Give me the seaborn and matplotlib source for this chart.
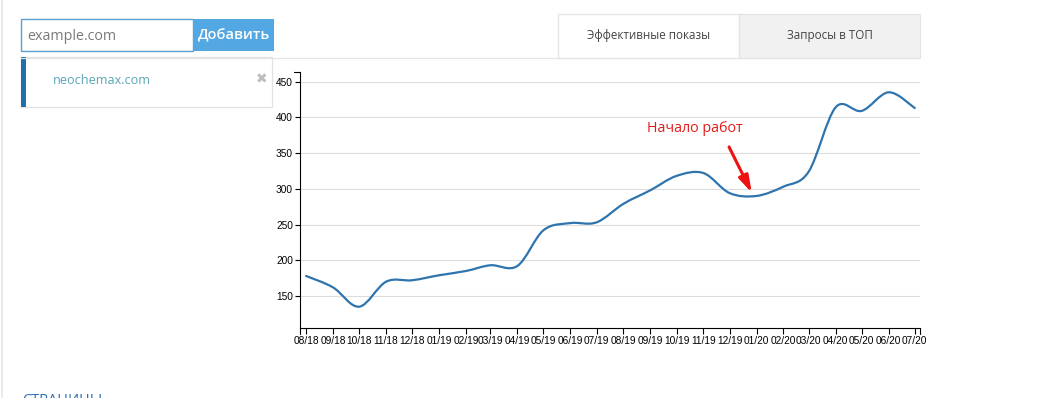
import numpy as np
import pandas as pd
import matplotlib
matplotlib.use('Agg')
import matplotlib.pyplot as plt
import matplotlib.dates as mdates
from matplotlib.path import Path
from matplotlib.patches import PathPatch, Rectangle
import seaborn as sb

# monthly values (Эффективные показы)
months = pd.date_range('2018-08-01', '2020-07-01', freq='MS')
shows = [178, 162, 135, 170, 172, 179, 185, 193, 192, 242, 252, 253,
         279, 298, 318, 322, 294, 290, 303, 324, 414, 409, 435, 413]
y_ticks = [150, 200, 250, 300, 350, 400, 450]
note_text = 'Начало работ'
site_name = 'neochemax.com'
tab_labels = ['Эффективные показы', 'Запросы в ТОП']

W, H = 1058, 398
LINE_COLOR = '#2f74ad'


def fx(x):
    return x / W


def fy(y):
    return 1 - y / H


def cardinal_path(x, y, k=1 / 6):
    # like d3.curveCardinal (tension 0): bezier segments through every point
    pts = np.column_stack([x, y]).astype(float)
    pts = np.vstack([pts[:1], pts, pts[-1:]])
    verts = [tuple(pts[1])]
    codes = [Path.MOVETO]
    for i in range(1, len(pts) - 2):
        p0, p1, p2, p3 = pts[i - 1], pts[i], pts[i + 1], pts[i + 2]
        verts += [tuple(p1 + k * (p2 - p0)), tuple(p2 - k * (p3 - p1)), tuple(p2)]
        codes += [Path.CURVE4] * 3
    return Path(verts, codes)


sb.set_style('white')
plt.rcParams['font.family'] = ['Liberation Sans', 'DejaVu Sans']

fig = plt.figure(figsize=(W / 100, H / 100), dpi=100)

# chart area
ax = fig.add_axes([fx(300), fy(328), fx(620), 256 / H])
xs = mdates.date2num(months)
ax.add_patch(PathPatch(cardinal_path(xs, shows), facecolor='none',
                       edgecolor=LINE_COLOR, lw=1.6, capstyle='round'))
ax.set_xlim(mdates.date2num(pd.Timestamp('2018-07-25')),
            mdates.date2num(pd.Timestamp('2020-07-07')))
ax.set_ylim(105.2, 463.4)

ax.set_yticks(y_ticks)
ax.xaxis.set_major_locator(mdates.MonthLocator())
ax.xaxis.set_major_formatter(mdates.DateFormatter('%m/%y'))
for v in y_ticks:
    ax.axhline(v, color='#dcdcdc', lw=0.8, zorder=0)

for side in ['top', 'right']:
    ax.spines[side].set_visible(False)
for side in ['left', 'bottom']:
    ax.spines[side].set_color('black')
    ax.spines[side].set_linewidth(0.8)
ax.tick_params(axis='y', length=3.5, width=0.8, pad=1.5, labelsize=7.3,
               colors='black', direction='out', left=True)
ax.tick_params(axis='x', length=4.3, width=0.8, pad=1.5, labelsize=7.3,
               colors='black', direction='out', bottom=True)

# d3 style outer ticks at axis ends
ax.plot([-6 / 620, 0], [1, 1], color='black', lw=0.8, transform=ax.transAxes, clip_on=False)
ax.plot([0, 0], [0, -6 / 256], color='black', lw=0.8, transform=ax.transAxes, clip_on=False)
ax.plot([1, 1], [0, -6 / 256], color='black', lw=0.8, transform=ax.transAxes, clip_on=False)

# annotation
ax.annotate('', xy=(pd.Timestamp('2019-12-28'), 291), xytext=(pd.Timestamp('2019-11-29'), 362),
            arrowprops=dict(arrowstyle='-|>,head_length=1.0,head_width=0.3',
                            color='#ee1111', lw=2.2))
fig.text(fx(647), fy(129), note_text, color='#e31b1b', fontsize=10.3,
         family=['Open Sans', 'DejaVu Sans'], va='center', ha='left')

# page chrome around the chart
fig.add_artist(plt.Line2D([fx(1.5), fx(1.5)], [0, 1], color='#e6e6e6', lw=1.2))
fig.add_artist(plt.Line2D([fx(21), fx(920)], [fy(57.5), fy(57.5)], color='#e4e4e4', lw=0.9))

# search box + button
fig.add_artist(Rectangle((fx(21), fy(51)), fx(172), 32 / H, transform=fig.transFigure,
                         facecolor='white', edgecolor='#5b9fcf', lw=1.0))
fig.add_artist(Rectangle((fx(193), fy(51)), fx(81), 32 / H, transform=fig.transFigure,
                         facecolor='#53a7e2', edgecolor='none'))
fig.text(fx(27), fy(36), 'example.com', color='#7a7a7a', fontsize=10.3,
         family='Open Sans', va='center')
fig.text(fx(234), fy(35.5), 'Добавить', color='white', fontsize=10.5,
         family='Open Sans', weight='semibold', va='center', ha='center')

# selected site card
fig.add_artist(Rectangle((fx(21), fy(107)), fx(251), 49.5 / H, transform=fig.transFigure,
                         facecolor='white', edgecolor='#e2e2e2', lw=0.9))
fig.add_artist(Rectangle((fx(21), fy(107)), fx(5), 49.5 / H, transform=fig.transFigure,
                         facecolor='#1f70ad', edgecolor='none'))
fig.text(fx(53), fy(80), site_name, color='#5aa6b6', fontsize=9.1,
         family='Open Sans', va='center')
fig.text(fx(262), fy(79.5), '\u2716', color='#bdbdbd', fontsize=10,
         family='DejaVu Sans', va='center', ha='center')

# tabs
fig.add_artist(Rectangle((fx(558), fy(57.5)), fx(181), 43.5 / H, transform=fig.transFigure,
                         facecolor='white', edgecolor='#e4e4e4', lw=0.9))
fig.add_artist(Rectangle((fx(739), fy(57.5)), fx(181), 43.5 / H, transform=fig.transFigure,
                         facecolor='#f1f1f1', edgecolor='#e4e4e4', lw=0.9))
fig.text(fx(649), fy(36), tab_labels[0], color='#444444', fontsize=8.4,
         family='Open Sans', va='center', ha='center')
fig.text(fx(830), fy(36), tab_labels[1], color='#444444', fontsize=8.4,
         family='Open Sans', va='center', ha='center')

# section heading, cut by the bottom edge
fig.text(fx(22), fy(392), 'СТРАНИЦЫ', color='#2d6fb5', fontsize=10.5,
         family='Open Sans', va='top', ha='left')

fig.savefig('out.png', dpi=100, facecolor='white')
